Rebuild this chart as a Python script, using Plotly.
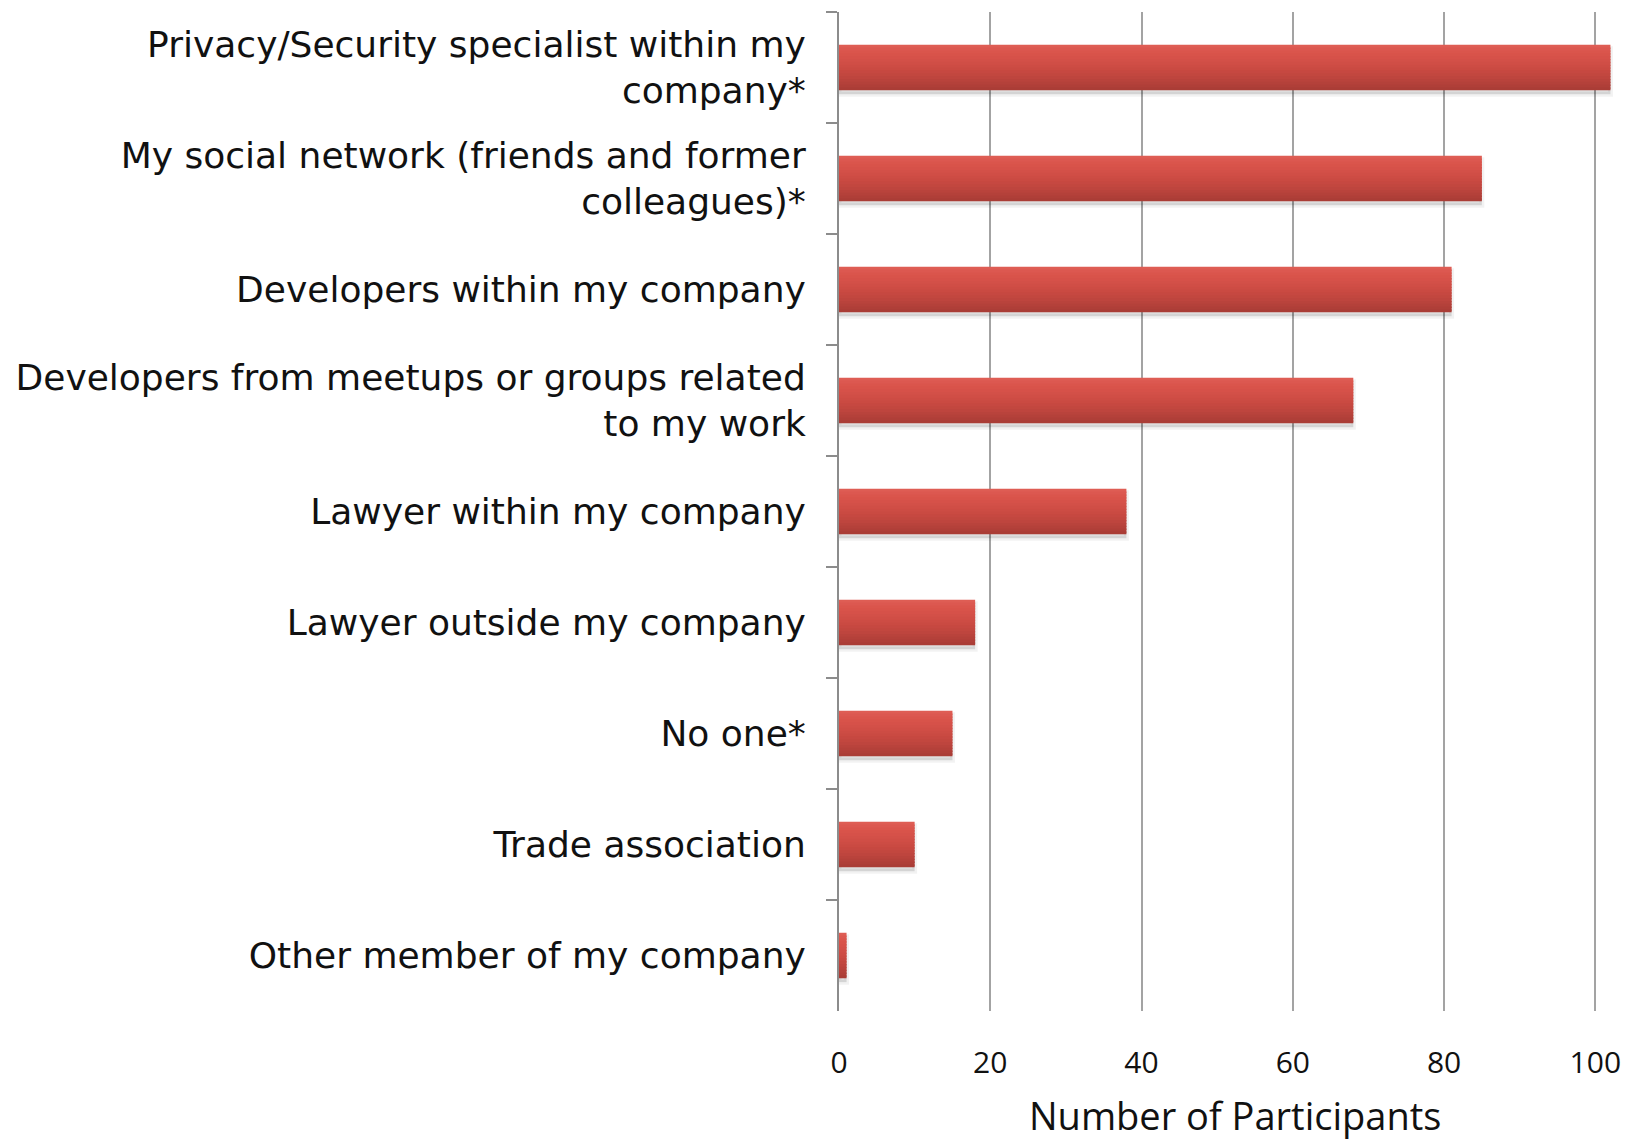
import plotly.graph_objects as go

# Who participants turn to for privacy/security advice
sources = [
    "Privacy/Security specialist within my<br>company*",
    "My social network (friends and former<br>colleagues)*",
    "Developers within my company",
    "Developers from meetups or groups related<br>to my work",
    "Lawyer within my company",
    "Lawyer outside my company",
    "No one*",
    "Trade association",
    "Other member of my company",
]
participants = [102, 85, 81, 68, 38, 18, 15, 10, 1]

x_ticks = [0, 20, 40, 60, 80, 100]
x_title = "Number of Participants"

BAR_W = 0.41
# vertical shading of each bar, top to bottom
shade = ["#de5d54", "#dc5850", "#da554c", "#d8534a", "#d65149", "#d35048",
         "#d04e46", "#cd4c44", "#ca4a42", "#c64841", "#c2473f", "#be453e",
         "#b9433c", "#b4413a", "#af3f38", "#aa3d36"]

fig = go.Figure()

# soft drop shadow under each bar
fig.add_trace(go.Bar(
    y=sources, x=participants, orientation="h",
    width=BAR_W, offset=-BAR_W / 2 + 0.035,
    marker=dict(color="rgba(0,0,0,0.12)",
                line=dict(color="rgba(0,0,0,0.05)", width=5)),
    hoverinfo="skip", showlegend=False,
))

# bar body built from horizontal bands for a top-to-bottom gradient
n = len(shade)
band = BAR_W / n
for k, col in enumerate(shade):
    fig.add_trace(go.Bar(
        y=sources, x=participants, orientation="h",
        width=band + (0.012 if k < n - 1 else 0),
        offset=-BAR_W / 2 + k * band,
        marker=dict(color=col, line=dict(width=0)),
        showlegend=False,
    ))

fig.update_layout(
    width=1631, height=1140,
    margin=dict(l=839, r=13, t=12, b=129),
    paper_bgcolor="white", plot_bgcolor="white",
    barmode="overlay",
    showlegend=False,
)

fig.update_xaxes(
    range=[0, 103],
    automargin=False,
    tickvals=x_ticks,
    ticktext=[str(v) for v in x_ticks],
    showgrid=True, gridcolor="#a3a3a3", gridwidth=1.5,
    zeroline=False, showline=False, ticks="",
    ticklabelstandoff=31,
    tickfont=dict(family="Open Sans", size=30, color="#111111"),
)

# x-axis title placed below the tick labels
fig.add_annotation(
    text=x_title, showarrow=False,
    xref="x domain", yref="y domain", x=0.5, y=0,
    xanchor="center", yanchor="middle",
    xshift=6, yshift=-104,
    font=dict(family="Open Sans", size=38, color="#111111"),
)

fig.update_yaxes(
    autorange="reversed",
    automargin=False,
    showgrid=False, zeroline=False,
    showline=True, linecolor="#8c8c8c", linewidth=2,
    ticks="outside", tickson="boundaries", ticklen=11,
    tickcolor="#8c8c8c", tickwidth=2,
    ticklabelstandoff=24,
    tickfont=dict(family="DejaVu Sans", size=36, color="#111111"),
)

fig.write_html("out.html")
